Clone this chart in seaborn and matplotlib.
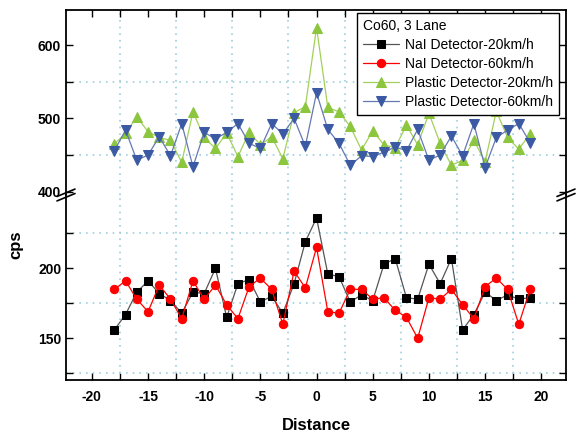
import numpy as np
import pandas as pd
import seaborn as sns
import matplotlib.pyplot as plt
from matplotlib.ticker import MultipleLocator, FixedLocator

# values
distance = list(range(-18, 20))
nai_20 = [156, 167, 183, 191, 182, 177, 168, 183, 182, 200, 165, 189, 192, 176, 180, 168, 189, 219, 236,
          196, 194, 176, 181, 177, 203, 207, 179, 178, 203, 189, 207, 156, 167, 183, 177, 181, 178, 179]
nai_60 = [185, 191, 178, 169, 188, 178, 164, 191, 178, 188, 174, 164, 187, 193, 185, 160, 198, 186, 215,
          169, 168, 185, 185, 178, 179, 170, 165, 150, 179, 178, 185, 174, 164, 187, 193, 185, 160, 185]
plastic_20 = [465, 480, 502, 482, 474, 470, 440, 509, 474, 459, 480, 448, 481, 464, 475, 445, 508, 516, 624,
              515, 509, 489, 457, 483, 464, 460, 491, 464, 507, 466, 436, 443, 470, 441, 510, 474, 458, 479]
plastic_60 = [456, 484, 443, 450, 475, 449, 493, 434, 481, 472, 481, 493, 466, 459, 493, 479, 500, 462, 535,
              485, 466, 436, 449, 448, 454, 461, 456, 485, 443, 450, 476, 449, 493, 433, 474, 484, 493, 467]

labels = ["NaI Detector-20km/h", "NaI Detector-60km/h",
          "Plastic Detector-20km/h", "Plastic Detector-60km/h"]

df = pd.DataFrame({"Distance": distance, labels[0]: nai_20, labels[1]: nai_60,
                   labels[2]: plastic_20, labels[3]: plastic_60})

sns.set_style("white")
plt.rcParams["font.family"] = ["Liberation Sans", "DejaVu Sans"]
plt.rcParams["text.color"] = "black"
plt.rcParams["axes.unicode_minus"] = False

fig = plt.figure(figsize=(5.77, 4.36), dpi=100)
W, H = 577, 436
ax_top = fig.add_axes([66 / W, 1 - 195 / H, 500 / W, 185 / H])
ax_bot = fig.add_axes([66 / W, 1 - 380 / H, 500 / W, 185 / H], sharex=ax_top)

styles = [
    (ax_bot, labels[0], "black", "s", "#555555"),
    (ax_bot, labels[1], "red", "o", "red"),
    (ax_top, labels[2], "#8cc63f", "^", "#a3d05a"),
    (ax_top, labels[3], "#3b5aa3", "v", "#6478b4"),
]
handles = []
for ax, col, mcol, mk, lcol in styles:
    sns.lineplot(data=df, x="Distance", y=col, ax=ax, color=lcol, lw=0.9,
                 marker=mk, markersize=7 if mk in "^v" else 6,
                 markerfacecolor=mcol, markeredgecolor=mcol, label=col, legend=False)
    handles.append(ax.get_lines()[-1])

ax_top.set_ylim(395.5, 648)
ax_bot.set_ylim(120.2, 252.4)
ax_top.set_xlim(-22.3, 22.2)

ax_top.yaxis.set_major_locator(FixedLocator([400, 500, 600]))
ax_top.yaxis.set_minor_locator(FixedLocator([450, 550]))
ax_bot.yaxis.set_major_locator(FixedLocator([150, 200]))
ax_bot.yaxis.set_minor_locator(FixedLocator([125, 175, 225]))
ax_bot.xaxis.set_major_locator(MultipleLocator(5))
ax_bot.xaxis.set_minor_locator(MultipleLocator(2.5))

grid_kw = dict(color="#9fd0de", linestyle=(0, (1, 3)), linewidth=1.2)
for ax in (ax_top, ax_bot):
    ax.set_xlabel("")
    ax.set_ylabel("")
    ax.grid(False)
    ax.grid(True, which="minor", **grid_kw)
    for s in ax.spines.values():
        s.set_color("black")
        s.set_linewidth(1.3)
    ax.tick_params(which="both", direction="in", left=True, right=True,
                   colors="black", labelcolor="black", labelsize=10)
    ax.tick_params(which="major", length=5, width=1)
    ax.tick_params(which="minor", length=5, width=1)

ax_top.spines["bottom"].set_visible(False)
ax_bot.spines["top"].set_visible(False)
ax_top.tick_params(which="both", top=True, bottom=False, labelbottom=False)
ax_bot.tick_params(which="both", bottom=True, top=False)
ax_bot.tick_params(axis="x", which="major", pad=7)
for lab in ax_top.get_yticklabels() + ax_bot.get_yticklabels() + ax_bot.get_xticklabels():
    lab.set_fontweight("bold")

# axis break marks
for xb in (0.0, 1.0):
    for dy in (-0.012, 0.012):
        ax_bot.plot([xb - 0.018, xb + 0.018], [1 + dy - 0.02, 1 + dy + 0.02],
                    transform=ax_bot.transAxes, color="black", lw=1.2, clip_on=False)

fig.text(16 / W, 1 - 245 / H, "cps", rotation=90, ha="center", va="center",
         fontsize=12, fontweight="bold", color="black")
ax_bot.set_xlabel("Distance", fontsize=12, fontweight="bold", labelpad=10, color="black")

leg = ax_top.legend(handles=handles, labels=labels, title="Co60, 3 Lane",
                    loc="upper left", bbox_to_anchor=(0.582, 0.984), fontsize=10,
                    title_fontsize=10, alignment="left", frameon=True, fancybox=False,
                    edgecolor="black", framealpha=1, borderaxespad=0, handlelength=2.6,
                    labelspacing=0.35, borderpad=0.45, handletextpad=0.4)
leg.get_frame().set_linewidth(1.0)
for t in leg.get_texts():
    t.set_color("black")
leg.get_title().set_color("black")

fig.savefig("out.png", dpi=100)
